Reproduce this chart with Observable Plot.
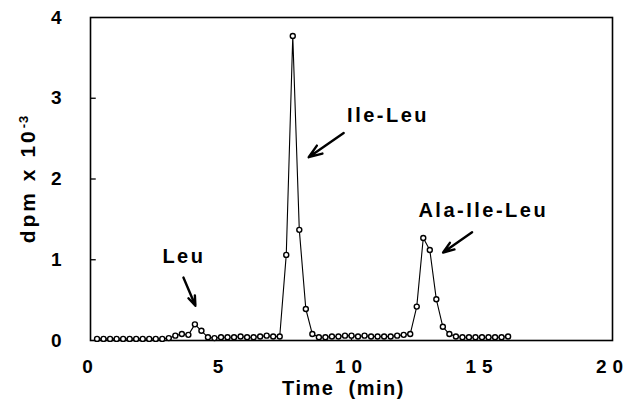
<!DOCTYPE html>
<html>
<head>
<meta charset="utf-8">
<script src="https://cdn.jsdelivr.net/npm/d3@7"></script>
<script src="https://cdn.jsdelivr.net/npm/@observablehq/plot@0.6"></script>
<style>
  html, body { margin: 0; padding: 0; background: #fff; }
</style>
</head>
<body>
<div id="chart"></div>
<script>
const times = [0.25,0.5,0.75,1,1.25,1.5,1.75,2,2.25,2.5,2.75,3,3.25,3.5,3.75,4,4.25,4.5,4.75,5,
  5.25,5.5,5.75,6,6.25,6.5,6.75,7,7.25,7.5,7.75,8,8.25,8.5,8.75,9,9.25,9.5,9.75,10,
  10.25,10.5,10.75,11,11.25,11.5,11.75,12,12.25,12.5,12.75,13,13.25,13.5,13.75,14,
  14.25,14.5,14.75,15,15.25,15.5,15.75,16];
const dpm = [0.02,0.02,0.02,0.02,0.02,0.02,0.02,0.02,0.02,0.02,0.02,0.03,0.06,0.08,0.07,0.20,0.12,0.04,0.03,0.04,
  0.04,0.04,0.05,0.04,0.04,0.05,0.06,0.05,0.05,1.06,3.77,1.37,0.39,0.08,0.04,0.04,0.05,0.05,0.06,0.06,
  0.05,0.06,0.05,0.05,0.05,0.05,0.06,0.07,0.08,0.42,1.27,1.12,0.51,0.17,0.08,0.05,
  0.04,0.04,0.04,0.04,0.04,0.04,0.04,0.05];

const xTicks = [0, 5, 10, 15, 20];
const yTicks = [0, 1, 2, 3, 4];
const xTickLabels = ["0", "5", "10", "15", "20"];
const yTickLabels = ["0", "1", "2", "3", "4"];
const xTitle = "Time\u00a0\u00a0(min)";
const yTitle = "dpm x 10";
const yTitleExponent = "-3";

const peakLabels = ["Leu", "Ile-Leu", "Ala-Ile-Leu"];
const labelX = [3.58, 11.40, 15.05];
const labelY = [1.04, 2.79, 1.61];
const arrowX1 = [3.56, 9.70, 14.62];
const arrowY1 = [0.78, 2.57, 1.34];
const arrowX2 = [4.02, 8.36, 13.51];
const arrowY2 = [0.43, 2.27, 1.09];

const points = times.map((t, i) => ({t, v: dpm[i]}));
const labels = peakLabels.map((s, i) => ({s, x: labelX[i], y: labelY[i]}));
const arrows = peakLabels.map((s, i) => ({x1: arrowX1[i], y1: arrowY1[i], x2: arrowX2[i], y2: arrowY2[i]}));

const chart = Plot.plot({
  width: 628,
  height: 401,
  marginLeft: 90,
  marginRight: 16,
  marginTop: 17,
  marginBottom: 61,
  style: {fontFamily: "'Liberation Sans', Arial, Helvetica, sans-serif", fontSize: "20px", fontWeight: "bold", color: "#000", background: "#fff"},
  x: {domain: [0, 20]},
  y: {domain: [0, 4]},
  marks: [
    Plot.frame({stroke: "#000", strokeWidth: 1.6}),
    Plot.ruleX(xTicks.slice(1, -1), {y1: 0, y2: 0.07, stroke: "#000", strokeWidth: 1.3}),
    Plot.ruleY(yTicks.slice(1, -1), {x1: 0, x2: 0.22, stroke: "#000", strokeWidth: 1.3}),
    Plot.axisX(xTicks, {tickSize: 0, tickPadding: 19, tickFormat: (d, i) => xTickLabels[i], fontSize: 19, label: xTitle, labelAnchor: "center", labelOffset: 54, labelArrow: "none"}),
    Plot.axisY(yTicks, {tickSize: 0, tickPadding: 29, tickFormat: (d, i) => yTickLabels[i], fontSize: 19, label: yTitle, labelAnchor: "center", labelOffset: 70, labelArrow: "none"}),
    Plot.line(points, {x: "t", y: "v", stroke: "#000", strokeWidth: 1.1}),
    Plot.dot(points, {x: "t", y: "v", r: 2.5, fill: "#fff", stroke: "#000", strokeWidth: 1.4}),
    Plot.arrow(arrows, {x1: "x1", y1: "y1", x2: "x2", y2: "y2", stroke: "#000", strokeWidth: 2.4, headLength: 11, headAngle: 40}),
    Plot.text(labels, {x: "x", y: "y", text: "s", fontSize: 20, fontWeight: "bold", fill: "#000"})
  ]
});

document.getElementById("chart").appendChild(chart);
const svg = d3.select(chart);
svg.selectAll("g[aria-label='x-axis tick label'] text").attr("letter-spacing", "6px");
svg.selectAll("g[aria-label='y-axis tick label'] text").attr("letter-spacing", "0px");
svg.selectAll("g[aria-label='x-axis label'] text").attr("letter-spacing", "1.5px").attr("font-size", 20).attr("dx", -8);
const yl = svg.selectAll("g[aria-label='y-axis label'] text").attr("letter-spacing", "3px").attr("font-size", 21);
yl.append("tspan").attr("dy", "-0.55em").attr("font-size", 13).attr("letter-spacing", "1px").text(yTitleExponent);
svg.selectAll("g[aria-label='text'] text").attr("letter-spacing", "2.5px");
</script>
</body>
</html>
